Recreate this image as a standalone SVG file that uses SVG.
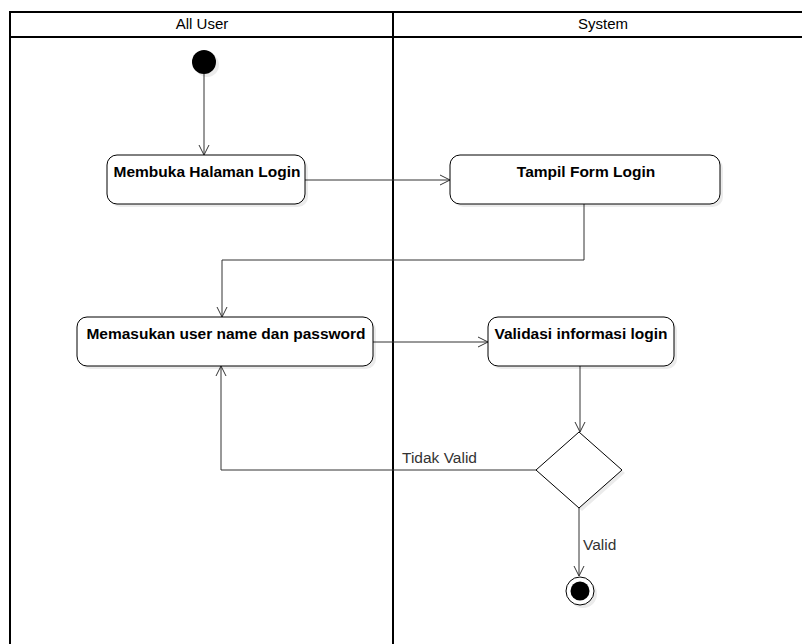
<svg xmlns="http://www.w3.org/2000/svg" width="802" height="644" viewBox="0 0 802 644">
  <style>
    .lane { fill: none; stroke: #000; stroke-width: 2; }
    .head { font-family: "Liberation Sans", Arial, sans-serif; font-size: 15px; fill: #000; text-anchor: middle; }
    .act { fill: #fff; stroke: #000; stroke-width: 1; }
    .shadow { fill: #000; opacity: 0.08; }
    .lbl { font-family: "Liberation Sans", Arial, sans-serif; font-size: 15.5px; font-weight: bold; fill: #000; text-anchor: middle; }
    .edge { fill: none; stroke: #333; stroke-width: 1; }
    .elbl { font-family: "Liberation Sans", Arial, sans-serif; font-size: 15.5px; fill: #333; }
  </style>
  <defs>
    <marker id="open" markerWidth="12" markerHeight="12" viewBox="0 0 12 12" refX="11" refY="6" orient="auto" markerUnits="userSpaceOnUse">
      <path d="M1,1 L11,6 L1,11" fill="none" stroke="#333" stroke-width="1"/>
    </marker>
  </defs>

  <rect width="802" height="644" fill="#fff"/>

  <!-- swimlanes -->
  <g id="lanes">
    <path class="lane" d="M10,644 V12 H802 M10,37 H802 M393,12 V644"/>
    <text class="head" x="202" y="29">All User</text>
    <text class="head" x="603" y="29">System</text>
  </g>

  <!-- connectors -->
  <g id="connectors">
    <path class="edge" d="M204,74 V155" marker-end="url(#open)"/>
    <path class="edge" d="M305,180 H450" marker-end="url(#open)"/>
    <path class="edge" d="M584,204 V260 H222 V317" marker-end="url(#open)"/>
    <path class="edge" d="M373,342 H488" marker-end="url(#open)"/>
    <path class="edge" d="M580,366 V432" marker-end="url(#open)"/>
    <path class="edge" d="M536,470 H221 V366" marker-end="url(#open)"/>
    <text class="elbl" x="402" y="463">Tidak Valid</text>
    <path class="edge" d="M579,508 V576" marker-end="url(#open)"/>
    <text class="elbl" x="583" y="550">Valid</text>
  </g>

  <g id="start">
    <circle class="shadow" cx="207" cy="65" r="12"/>
    <circle cx="204" cy="62" r="12" fill="#000"/>
  </g>

  <g id="membuka">
    <rect class="shadow" x="110" y="158" width="198" height="49" rx="10"/>
    <rect class="act" x="107" y="155" width="198" height="49" rx="10"/>
    <text class="lbl" x="207" y="177">Membuka Halaman Login</text>
  </g>

  <g id="tampil">
    <rect class="shadow" x="453" y="158" width="270" height="49" rx="10"/>
    <rect class="act" x="450" y="155" width="270" height="49" rx="10"/>
    <text class="lbl" x="586" y="177">Tampil Form Login</text>
  </g>

  <g id="memasukan">
    <rect class="shadow" x="80" y="320" width="296" height="49" rx="10"/>
    <rect class="act" x="77" y="317" width="296" height="49" rx="10"/>
    <text class="lbl" x="226" y="339">Memasukan user name dan password</text>
  </g>

  <g id="validasi">
    <rect class="shadow" x="491" y="320" width="186" height="49" rx="10"/>
    <rect class="act" x="488" y="317" width="186" height="49" rx="10"/>
    <text class="lbl" x="581" y="339">Validasi informasi login</text>
  </g>

  <g id="decision">
    <path class="shadow" d="M582,435 L625,473 L582,511 L539,473 Z"/>
    <path class="act" d="M579,432 L622,470 L579,508 L536,470 Z"/>
  </g>

  <g id="end">
    <circle class="shadow" cx="583" cy="594" r="14"/>
    <circle cx="580" cy="591" r="14" fill="#fff" stroke="#000" stroke-width="1"/>
    <circle cx="580" cy="591" r="9.5" fill="#000"/>
  </g>
</svg>
